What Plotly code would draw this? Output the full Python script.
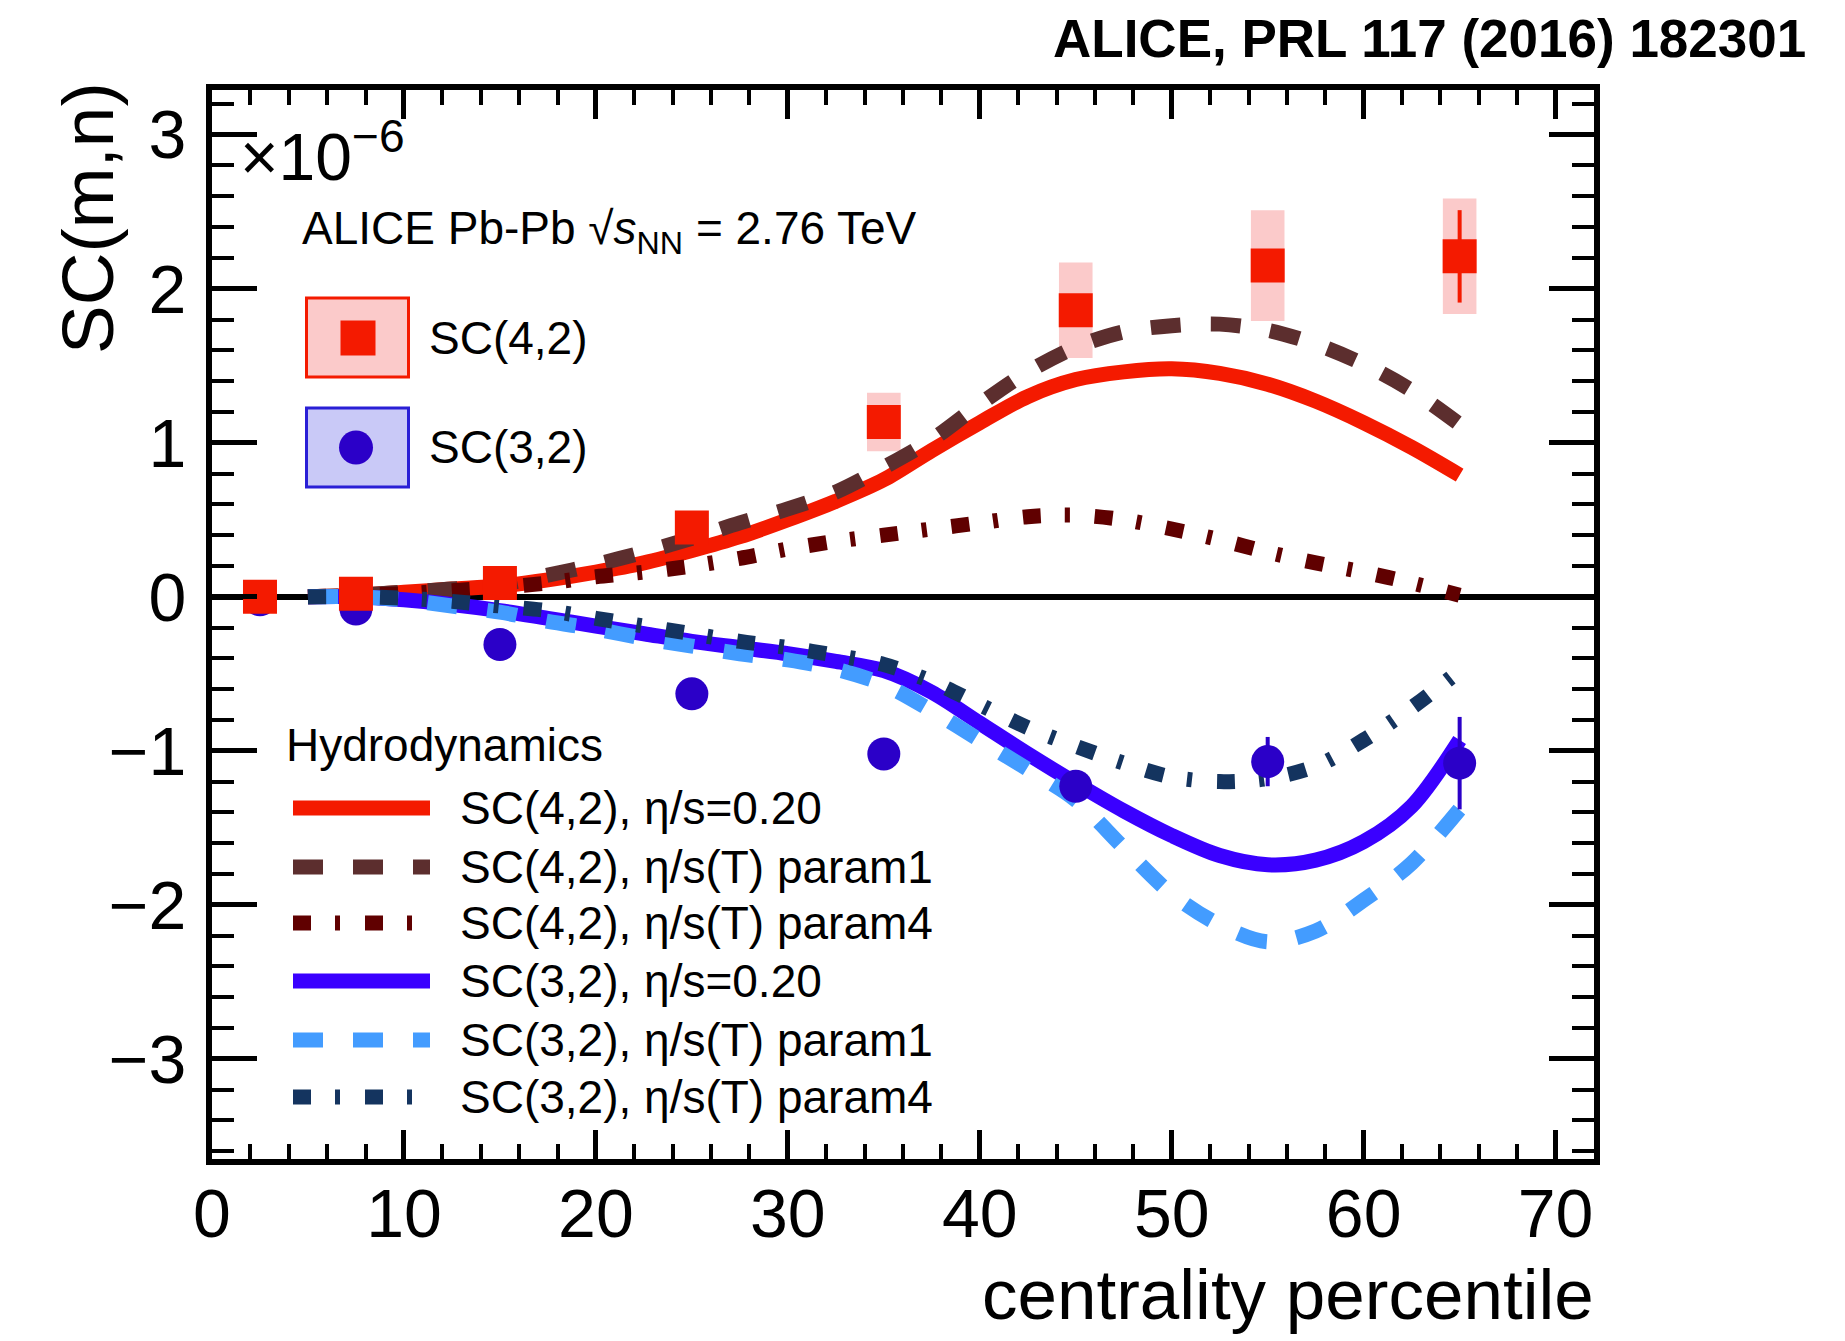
import plotly.graph_objects as go

# ---------------- data ----------------
cent = [2.5, 7.5, 15, 25, 35, 45, 55, 65]
sc42 = [0.0, 0.02, 0.09, 0.45, 1.135, 1.86, 2.15, 2.21]
sc42_stat = [0.01, 0.01, 0.02, 0.04, 0.08, 0.10, 0.10, 0.30]
sc42_syst = [0.02, 0.02, 0.03, 0.06, 0.19, 0.31, 0.36, 0.375]
sc32 = [-0.02, -0.08, -0.31, -0.63, -1.02, -1.23, -1.07, -1.08]
sc32_stat = [0.01, 0.02, 0.03, 0.05, 0.08, 0.10, 0.16, 0.30]

x_model = [5, 7.5, 10, 12.5, 15, 17.5, 20, 22.5, 25, 27.5, 30, 32.5, 35,
           37.5, 40, 42.5, 45, 47.5, 50, 52.5, 55, 57.5, 60, 62.5, 65]
sc42_eta020 = [0.0, 0.01, 0.03, 0.05, 0.07, 0.11, 0.16, 0.22, 0.30, 0.39, 0.50, 0.62, 0.76,
               0.95, 1.13, 1.30, 1.41, 1.46, 1.48, 1.45, 1.38, 1.27, 1.13, 0.97, 0.79]
sc42_param1 = [0.0, 0.01, 0.03, 0.05, 0.08, 0.14, 0.21, 0.29, 0.38, 0.48, 0.57, 0.68, 0.84,
               1.02, 1.25, 1.46, 1.62, 1.72, 1.76, 1.77, 1.73, 1.64, 1.51, 1.34, 1.12]
sc42_param4 = [0.0, 0.01, 0.02, 0.04, 0.06, 0.09, 0.13, 0.16, 0.20, 0.25, 0.31, 0.36, 0.40,
               0.44, 0.48, 0.52, 0.53, 0.50, 0.44, 0.37, 0.29, 0.22, 0.16, 0.09, 0.01]
sc32_eta020 = [0.0, 0.0, -0.02, -0.05, -0.09, -0.14, -0.19, -0.24, -0.29, -0.33, -0.37, -0.42, -0.48,
               -0.62, -0.82, -1.02, -1.21, -1.39, -1.55, -1.68, -1.74, -1.71, -1.59, -1.36, -0.93]
sc32_param1 = [0.0, 0.0, -0.02, -0.06, -0.10, -0.16, -0.21, -0.27, -0.32, -0.37, -0.41, -0.47, -0.57,
               -0.74, -0.93, -1.12, -1.32, -1.63, -1.93, -2.13, -2.24, -2.17, -1.97, -1.73, -1.38]
sc32_param4 = [0.0, 0.0, -0.01, -0.03, -0.06, -0.09, -0.14, -0.19, -0.24, -0.29, -0.33, -0.38, -0.44,
               -0.55, -0.70, -0.85, -0.97, -1.08, -1.17, -1.20, -1.18, -1.10, -0.93, -0.72, -0.48]

curve_names = ["SC(4,2), η/s=0.20", "SC(4,2), η/s(T) param1", "SC(4,2), η/s(T) param4",
               "SC(3,2), η/s=0.20", "SC(3,2), η/s(T) param1", "SC(3,2), η/s(T) param4"]
curve_values = [sc42_eta020, sc42_param1, sc42_param4, sc32_eta020, sc32_param1, sc32_param4]

# ---------------- styles ----------------
RED = "#f41a00"
PINK = "#fbcaca"
BROWN = "#5c2e2e"
MAROON = "#600000"
BLUE = "#3a00ff"
BLUE_PT = "#2b00c8"
LBLUE = "#439cff"
NAVY = "#14345f"
DASH = "30px,30px"
DOTDASH = "18px,24px,5px,25px"
curve_styles = [(RED, "solid"), (BROWN, DASH), (MAROON, DOTDASH),
                (BLUE, "solid"), (LBLUE, DASH), (NAVY, DOTDASH)]
FONT = "Liberation Sans, Arial, Helvetica, sans-serif"

W, H = 1845, 1341
L, R, T, B = 212, 1594, 90, 1159


def px(x):
    return (x - L) / (R - L)


def py(y):
    return (B - y) / (B - T)


fig = go.Figure()

# model curves
for name, vals, (col, dash) in zip(curve_names, curve_values, curve_styles):
    fig.add_trace(go.Scatter(x=x_model, y=vals, mode="lines", name=name,
                             line=dict(color=col, width=15, dash=dash, shape="spline", smoothing=0.9)))

# systematic boxes SC(4,2)
fig.add_trace(go.Bar(x=cent, y=[2 * s for s in sc42_syst],
                     base=[v - s for v, s in zip(sc42, sc42_syst)],
                     width=1.75, marker=dict(color=PINK, line=dict(width=0)), name="syst"))

# data points
fig.add_trace(go.Scatter(x=cent, y=sc32, mode="markers", name="SC(3,2)",
                         marker=dict(symbol="circle", size=33, color=BLUE_PT, line=dict(width=0)),
                         error_y=dict(type="data", array=sc32_stat, width=0, thickness=4, color=BLUE_PT)))
fig.add_trace(go.Scatter(x=cent, y=sc42, mode="markers", name="SC(4,2)",
                         marker=dict(symbol="square", size=34, color=RED, line=dict(width=0)),
                         error_y=dict(type="data", array=sc42_stat, width=0, thickness=4, color=RED)))

axis_common = dict(showgrid=False, showline=True, linewidth=6, linecolor="black",
                   mirror="allticks", ticks="inside", tickcolor="black", tickwidth=5,
                   tickfont=dict(family=FONT, size=68, color="black"))

fig.update_xaxes(range=[0, 72], tickvals=[0, 10, 20, 30, 40, 50, 60, 70], ticklen=29,
                 zeroline=False, ticklabelstandoff=-10,
                 minor=dict(dtick=2, tick0=0, ticklen=15, tickwidth=4, ticks="inside",
                            tickcolor="black", showgrid=False),
                 **axis_common)
fig.update_yaxes(range=[-3.65, 3.29], tickvals=[-3, -2, -1, 0, 1, 2, 3], ticklen=45,
                 zeroline=True, zerolinewidth=6, zerolinecolor="black", ticklabelstandoff=6,
                 minor=dict(dtick=0.2, tick0=0, ticklen=22, tickwidth=4, ticks="inside",
                            tickcolor="black", showgrid=False),
                 **axis_common)

shapes = []
# data legend boxes
shapes.append(dict(type="rect", xref="paper", yref="paper", x0=px(306.5), x1=px(408.5),
                   y0=py(377), y1=py(298), fillcolor=PINK, line=dict(color=RED, width=3)))
shapes.append(dict(type="rect", xref="paper", yref="paper", x0=px(340.5), x1=px(375.5),
                   y0=py(355.5), y1=py(320.5), fillcolor=RED, line=dict(width=0)))
shapes.append(dict(type="rect", xref="paper", yref="paper", x0=px(306.5), x1=px(408.5),
                   y0=py(487), y1=py(408), fillcolor="#c9c9f7", line=dict(color="#2a1fd6", width=3)))
shapes.append(dict(type="circle", xref="paper", yref="paper", x0=px(339), x1=px(373),
                   y0=py(464.5), y1=py(430.5), fillcolor=BLUE_PT, line=dict(width=0)))

row_y = [808, 867, 923, 981, 1040, 1097]
annotations = []
for yy, name, (col, dash) in zip(row_y, curve_names, curve_styles):
    shapes.append(dict(type="line", xref="paper", yref="paper", x0=px(293), x1=px(430),
                       y0=py(yy), y1=py(yy), line=dict(color=col, width=15, dash=dash)))
    annotations.append(dict(text=name, xref="paper", yref="paper", x=px(458), y=py(yy),
                            xanchor="left", yanchor="middle", showarrow=False,
                            font=dict(family=FONT, size=46, color="black")))


def ann(text, x, y, xa, ya, size, angle=0, bold=False):
    return dict(text=(f"<b>{text}</b>" if bold else text), xref="paper", yref="paper",
                x=px(x), y=py(y), xanchor=xa, yanchor=ya, showarrow=False, textangle=angle,
                font=dict(family=FONT, size=size, color="black"))


annotations += [
    ann("Hydrodynamics", 284, 745, "left", "middle", 46),
    ann("SC(4,2)", 427, 338, "left", "middle", 46),
    ann("SC(3,2)", 427, 447, "left", "middle", 46),
    ann("ALICE Pb-Pb √<i>s</i><sub>NN</sub> = 2.76 TeV", 300, 232, "left", "middle", 46),
    ann("×10<sup>−6</sup>", 238, 152, "left", "middle", 66),
    ann("ALICE, PRL 117 (2016) 182301", 1808, 39, "right", "middle", 53, bold=True),
    ann("SC(m,n)", 88, 218, "center", "middle", 73, angle=-90),
    ann("centrality percentile", 1596, 1294, "right", "middle", 71),
]

fig.update_layout(width=W, height=H, margin=dict(l=L, r=W - R, t=T, b=H - B, autoexpand=False),
                  plot_bgcolor="white", paper_bgcolor="white", showlegend=False,
                  barmode="overlay", font=dict(family=FONT, color="black"),
                  shapes=shapes, annotations=annotations)

fig.write_html("out.html")
